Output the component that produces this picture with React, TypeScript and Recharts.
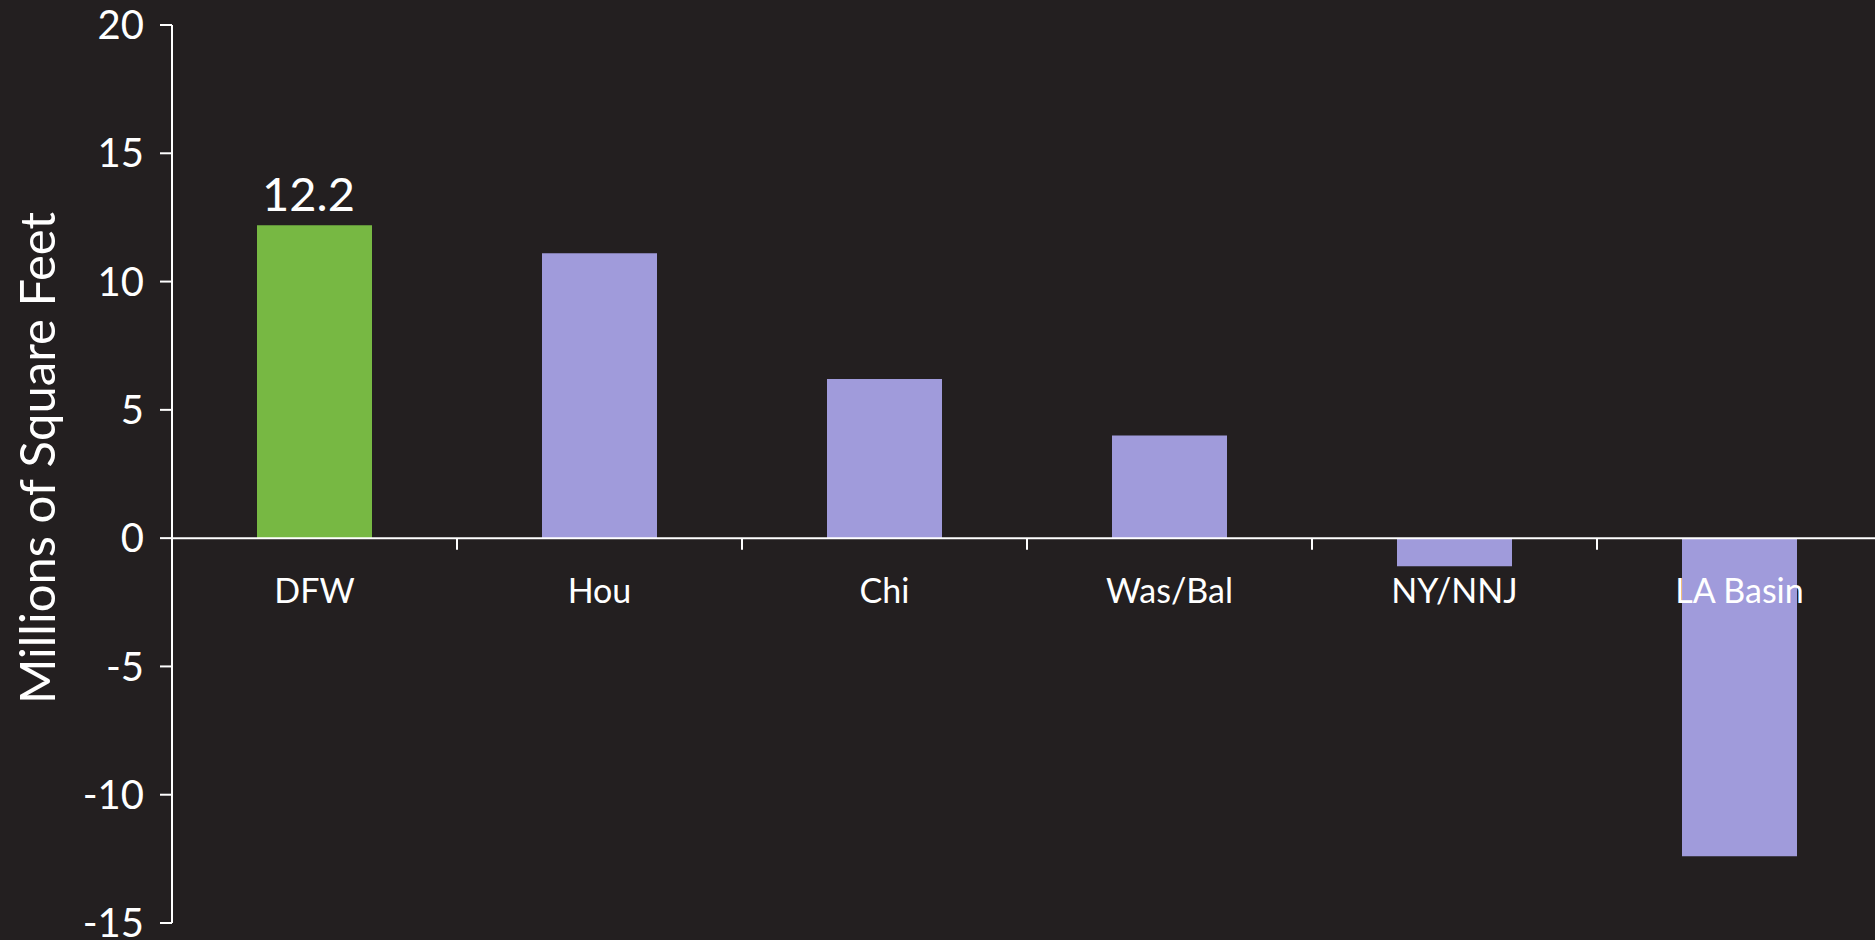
import React from 'react';
import { BarChart, Bar, XAxis, YAxis, Cell, LabelList, ReferenceLine } from 'recharts';

const categories = ['DFW', 'Hou', 'Chi', 'Was/Bal', 'NY/NNJ', 'LA Basin'];
const values = [12.2, 11.1, 6.2, 4.0, -1.1, -12.4];
const valueLabels = ['12.2', '', '', '', '', ''];
const highlighted = [true, false, false, false, false, false];
const yTicks = [-15, -10, -5, 0, 5, 10, 15, 20];
const yLabel = 'Millions of Square Feet';

const BG = '#231F20';
const GREEN = '#77B843';
const LAVENDER = '#A09BDB';
const FONT = 'Lato, "Noto Sans", sans-serif';

const data = categories.map((name, i) => ({ name, value: values[i] }));

const getBox = (props: any) => {
  const vb = props.viewBox || {};
  const x = Number(props.x ?? vb.x);
  const y = Number(props.y ?? vb.y);
  const w = Number(props.width ?? vb.width);
  const h = Number(props.height ?? vb.height);
  return { x, y, w, h };
};

const CategoryLabel = (props: any) => {
  const { x, y, w, h } = getBox(props);
  const idx = props.index;
  const v = values[idx];
  const base = v >= 0 ? Math.max(y, y + h) : Math.min(y, y + h);
  return (
    <text
      x={x + w / 2}
      y={base + 51}
      textAnchor="middle"
      dominantBaseline="central"
      fill="#ffffff"
      fontSize={34}
      fontFamily={FONT}
    >
      {categories[idx]}
    </text>
  );
};

const ValueLabel = (props: any) => {
  const { x, y, w, h } = getBox(props);
  const idx = props.index;
  const txt = valueLabels[idx];
  if (!txt) return null;
  const v = values[idx];
  const top = v >= 0 ? Math.min(y, y + h) : Math.max(y, y + h);
  return (
    <text
      x={x + w / 2 - 6}
      y={top - 32}
      textAnchor="middle"
      dominantBaseline="central"
      fill="#ffffff"
      fontSize={47}
      fontFamily={FONT}
    >
      {txt}
    </text>
  );
};

const YLabel = (props: any) => {
  const vb = props.viewBox || {};
  const cx = vb.x + 36;
  const cy = vb.y + vb.height / 2 - 16;
  return (
    <text
      x={cx}
      y={cy}
      transform={`rotate(-90, ${cx}, ${cy})`}
      textAnchor="middle"
      dominantBaseline="central"
      fill="#ffffff"
      fontSize={49}
      fontFamily={FONT}
    >
      {yLabel}
    </text>
  );
};

export default function App() {
  return (
    <div
      style={{
        position: 'absolute',
        left: 0,
        top: 0,
        width: 1875,
        height: 940,
        overflow: 'hidden',
        background: BG,
      }}
    >
      <BarChart
        width={1882}
        height={940}
        data={data}
        margin={{ top: 25, right: 0, bottom: 17, left: 0 }}
        barSize={115}
      >
        <XAxis dataKey="name" hide />
        <YAxis
          type="number"
          domain={[-15, 20]}
          ticks={yTicks}
          interval={0}
          width={172}
          axisLine={{ stroke: '#ffffff', strokeWidth: 2 }}
          tickLine={{ stroke: '#ffffff', strokeWidth: 2 }}
          tickSize={12}
          tickMargin={16}
          tick={{ fill: '#ffffff', fontSize: 40, fontFamily: FONT }}
          label={<YLabel />}
        />
        <Bar dataKey="value" isAnimationActive={false}>
          {data.map((d, i) => (
            <Cell key={d.name} fill={highlighted[i] ? GREEN : LAVENDER} />
          ))}
          <LabelList dataKey="name" content={<CategoryLabel />} />
          <LabelList dataKey="value" content={<ValueLabel />} />
        </Bar>
        <ReferenceLine y={0} stroke="#ffffff" strokeWidth={2} ifOverflow="visible" />
        {categories.slice(1).map((c) => (
          <ReferenceLine
            key={c}
            position="start"
            segment={[
              { x: c, y: 0 },
              { x: c, y: -0.45 },
            ]}
            stroke="#ffffff"
            strokeWidth={2}
            ifOverflow="visible"
          />
        ))}
      </BarChart>
    </div>
  );
}
